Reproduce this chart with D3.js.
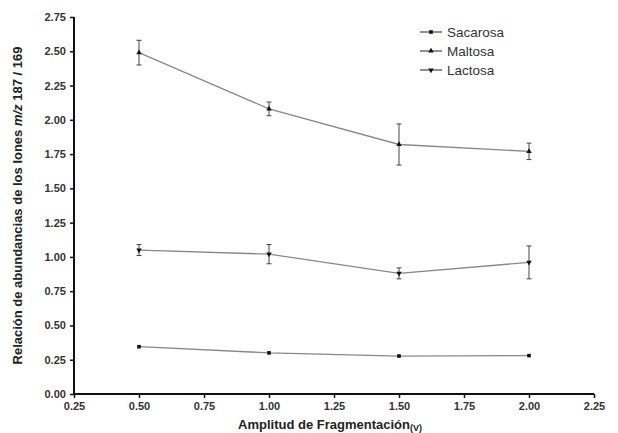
<!DOCTYPE html>
<html>
<head>
<meta charset="utf-8">
<script src="https://cdn.jsdelivr.net/npm/d3@7"></script>
<style>
  body { margin: 0; background: #fff; }
  text { font-family: Arial, "Liberation Sans", sans-serif; }
</style>
</head>
<body>
<svg width="618" height="433"></svg>
<script>
// Amplitud de fragmentación (V)
const amplitudes = [0.5, 1.0, 1.5, 2.0];

// Relación de abundancias m/z 187/169 (media) y error
const sacarosa = [0.345, 0.30, 0.277, 0.28];
const sacarosaErr = [0.005, 0.005, 0.005, 0.005];
const maltosa = [2.49, 2.08, 1.82, 1.77];
const maltosaErr = [0.09, 0.05, 0.15, 0.06];
const lactosa = [1.05, 1.02, 0.88, 0.96];
const lactosaErr = [0.04, 0.07, 0.04, 0.12];

const xTicks = [0.25, 0.5, 0.75, 1.0, 1.25, 1.5, 1.75, 2.0, 2.25];
const yTicks = [0, 0.25, 0.5, 0.75, 1.0, 1.25, 1.5, 1.75, 2.0, 2.25, 2.5, 2.75];

const series = [
  { name: "Sacarosa", values: sacarosa, err: sacarosaErr, symbol: d3.symbolSquare, rot: 0 },
  { name: "Maltosa", values: maltosa, err: maltosaErr, symbol: d3.symbolTriangle, rot: 0 },
  { name: "Lactosa", values: lactosa, err: lactosaErr, symbol: d3.symbolTriangle, rot: 180 }
];

const svg = d3.select("svg");
const margin = { left: 74, right: 24, top: 17, bottom: 39 };
const width = +svg.attr("width"), height = +svg.attr("height");

const x = d3.scaleLinear().domain([0.25, 2.25]).range([margin.left, width - margin.right]);
const y = d3.scaleLinear().domain([0, 2.75]).range([height - margin.bottom, margin.top]);

// lines
const line = d3.line().x((d, i) => x(amplitudes[i])).y(d => y(d));
series.forEach(s => {
  svg.append("path")
    .attr("d", line(s.values))
    .attr("fill", "none")
    .attr("stroke", "#888")
    .attr("stroke-width", 1.3);
});

// error bars + markers
series.forEach(s => {
  const g = svg.append("g");
  s.values.forEach((v, i) => {
    const cx = x(amplitudes[i]);
    const lo = y(v - s.err[i]), hi = y(v + s.err[i]);
    if (s.err[i] > 0.01) {
      g.append("line").attr("x1", cx).attr("x2", cx).attr("y1", lo).attr("y2", hi)
        .attr("stroke", "#444").attr("stroke-width", 1);
      [lo, hi].forEach(yy => g.append("line")
        .attr("x1", cx - 2.5).attr("x2", cx + 2.5).attr("y1", yy).attr("y2", yy)
        .attr("stroke", "#444").attr("stroke-width", 1));
    }
    g.append("path")
      .attr("d", d3.symbol().type(s.symbol).size(13)())
      .attr("transform", `translate(${cx},${y(v)}) rotate(${s.rot})`)
      .attr("fill", "#111");
  });
});

// axes
const xAxis = svg.append("g")
  .attr("transform", `translate(0,${height - margin.bottom})`)
  .call(d3.axisBottom(x).tickValues(xTicks).tickFormat(d3.format(".2f")).tickSize(4));
const yAxis = svg.append("g")
  .attr("transform", `translate(${margin.left},0)`)
  .call(d3.axisLeft(y).tickValues(yTicks).tickFormat(d3.format(".2f")).tickSize(4));

[xAxis, yAxis].forEach(a => {
  a.select(".domain").attr("stroke", "#111").attr("stroke-width", 2);
  a.selectAll(".tick line").attr("stroke", "#111").attr("stroke-width", 1.5);
  a.selectAll(".tick text").attr("font-size", 11).attr("font-weight", "bold")
    .attr("fill", "#333").attr("font-family", "Arial, 'Liberation Sans', sans-serif");
});
xAxis.select(".domain").attr("d", `M${x(0.25)},0H${x(2.25)}`);
yAxis.select(".domain").attr("d", `M0,${y(0)}V${y(2.75)}`);
xAxis.selectAll(".tick text").attr("dy", "0.8em");
yAxis.selectAll(".tick text").attr("dx", "-0.1em");

// axis titles
const xt = svg.append("text")
  .attr("x", x(1.25) - 4).attr("y", 429)
  .attr("text-anchor", "middle")
  .attr("font-size", 13).attr("font-weight", "bold").attr("fill", "#222");
xt.append("tspan").text("Amplitud de Fragmentación");
xt.append("tspan").attr("font-size", 9).attr("dy", 2).text("(V)");

const yt = svg.append("text")
  .attr("transform", `translate(22,${(y(0) + y(2.75)) / 2}) rotate(-90)`)
  .attr("text-anchor", "middle")
  .attr("font-size", 13).attr("font-weight", "bold").attr("fill", "#222");
yt.append("tspan").text("Relación de abundancias de los Iones ");
yt.append("tspan").attr("font-style", "italic").text("m/z");
yt.append("tspan").text(" 187 / 169");

// legend
const legend = svg.append("g").attr("transform", "translate(420,32)");
series.forEach((s, i) => {
  const row = legend.append("g").attr("transform", `translate(0,${i * 19})`);
  row.append("line").attr("x1", 0).attr("x2", 22).attr("stroke", "#555").attr("stroke-width", 1.3);
  row.append("path")
    .attr("d", d3.symbol().type(s.symbol).size(13)())
    .attr("transform", `translate(11,0) rotate(${s.rot})`)
    .attr("fill", "#111");
  row.append("text").attr("x", 27).attr("y", 0).attr("dy", "0.35em")
    .attr("font-size", 13.5).attr("fill", "#333").text(s.name);
});
</script>
</body>
</html>
